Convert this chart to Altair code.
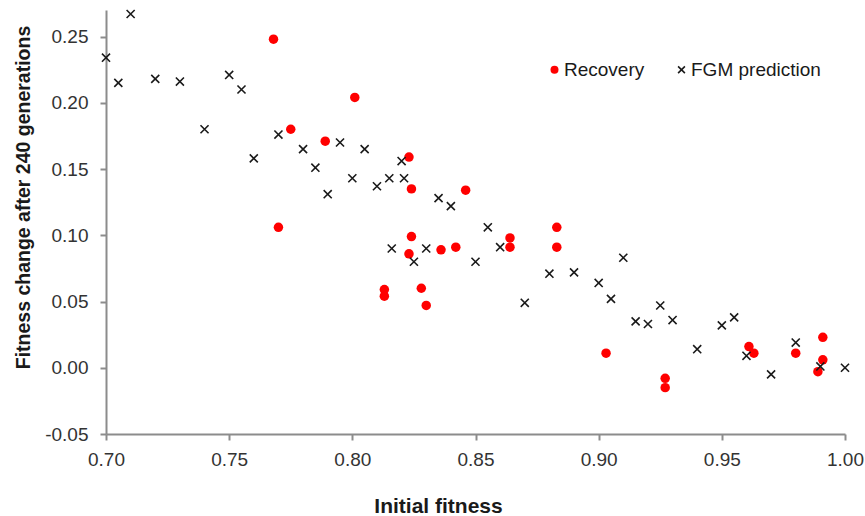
import altair as alt
import pandas as pd

# Recovery (red circles)
rec_x = [0.768, 0.770, 0.775, 0.789, 0.801, 0.823, 0.824, 0.824, 0.823, 0.813,
         0.813, 0.828, 0.830, 0.836, 0.842, 0.846, 0.864, 0.864, 0.883, 0.883,
         0.903, 0.927, 0.927, 0.961, 0.963, 0.980, 0.991, 0.991, 0.989]
rec_y = [0.248, 0.106, 0.180, 0.171, 0.204, 0.159, 0.135, 0.099, 0.086, 0.059,
         0.054, 0.060, 0.047, 0.089, 0.091, 0.134, 0.098, 0.091, 0.106, 0.091,
         0.011, -0.008, -0.015, 0.016, 0.011, 0.011, 0.023, 0.006, -0.003]

# FGM prediction (black crosses)
fgm_x = [0.700, 0.705, 0.710, 0.720, 0.730, 0.740, 0.750, 0.755, 0.760, 0.770,
         0.780, 0.785, 0.790, 0.795, 0.800, 0.805, 0.810, 0.815, 0.816, 0.820,
         0.821, 0.825, 0.830, 0.835, 0.840, 0.850, 0.855, 0.860, 0.870, 0.880,
         0.890, 0.900, 0.905, 0.910, 0.915, 0.920, 0.925, 0.930, 0.940, 0.950,
         0.955, 0.960, 0.970, 0.980, 0.990, 1.000]
fgm_y = [0.234, 0.215, 0.267, 0.218, 0.216, 0.180, 0.221, 0.210, 0.158, 0.176,
         0.165, 0.151, 0.131, 0.170, 0.143, 0.165, 0.137, 0.143, 0.090, 0.156,
         0.143, 0.080, 0.090, 0.128, 0.122, 0.080, 0.106, 0.091, 0.049, 0.071,
         0.072, 0.064, 0.052, 0.083, 0.035, 0.033, 0.047, 0.036, 0.014, 0.032,
         0.038, 0.009, -0.005, 0.019, 0.001, 0.000]

series_names = ["Recovery", "FGM prediction"]
x_ticks = [0.70, 0.75, 0.80, 0.85, 0.90, 0.95, 1.00]
y_ticks = [-0.05, 0.00, 0.05, 0.10, 0.15, 0.20, 0.25]

df = pd.DataFrame({
    "initial": rec_x + fgm_x,
    "change": rec_y + fgm_y,
    "series": [series_names[0]] * len(rec_x) + [series_names[1]] * len(fgm_x),
})

FONT = "Liberation Sans"
AXIS_COLOR = "#8c8c8c"
label_expr = "(datum.value < 0 ? '-' : '') + format(abs(datum.value), '.2f')"
x_shape = "M-0.85,-0.85L0.85,0.85M-0.85,0.85L0.85,-0.85"

chart = alt.Chart(df).mark_point(opacity=1, strokeWidth=1.6, size=90).encode(
    x=alt.X("initial:Q",
            scale=alt.Scale(domain=[0.70, 1.00], nice=False, zero=False),
            axis=alt.Axis(title="Initial fitness", values=x_ticks, labelExpr=label_expr,
                          grid=False, labelFlush=False, titleX=332, titleY=78,
                          titleBaseline="alphabetic", titleAlign="center",
                          titleFontSize=21, labelPadding=10)),
    y=alt.Y("change:Q",
            scale=alt.Scale(domain=[-0.05, 0.27], nice=False, zero=False),
            axis=alt.Axis(title="Fitness change after 240 generations", values=y_ticks,
                          labelExpr=label_expr, grid=False, labelFlush=False,
                          titleX=-73, titleY=187, titleBaseline="bottom",
                          titleAlign="center", titleAngle=270, titleFontSize=19.5,
                          labelPadding=12)),
    fill=alt.Fill("series:N",
                  scale=alt.Scale(domain=series_names, range=["#ff0000", "transparent"]),
                  legend=alt.Legend(title=None)),
    stroke=alt.Stroke("series:N",
                      scale=alt.Scale(domain=series_names, range=["transparent", "#1a1a1a"]),
                      legend=alt.Legend(title=None)),
    shape=alt.Shape("series:N",
                    scale=alt.Scale(domain=series_names, range=["circle", x_shape]),
                    legend=alt.Legend(title=None)),
).properties(
    width=739,
    height=424,
    padding={"left": 106, "top": 10, "right": 20, "bottom": 82},
    autosize=alt.AutoSizeParams(type="none"),
    background="white",
).configure_view(
    stroke=None
).configure_axis(
    domainColor=AXIS_COLOR,
    domainWidth=2,
    tickColor=AXIS_COLOR,
    tickWidth=2,
    tickSize=6,
    labelFont=FONT,
    labelFontSize=19,
    labelColor="#333333",
    titleFont=FONT,
    titleFontWeight="bold",
    titleColor="#1a1a1a",
).configure_legend(
    orient="none",
    direction="horizontal",
    legendX=439,
    legendY=50,
    labelFont=FONT,
    labelFontSize=19,
    labelColor="#1a1a1a",
    labelOffset=0,
    columnPadding=27,
    symbolSize=64,
    symbolStrokeWidth=1.6,
)

chart.save("out.html", embed_options={"renderer": "svg", "actions": False})
